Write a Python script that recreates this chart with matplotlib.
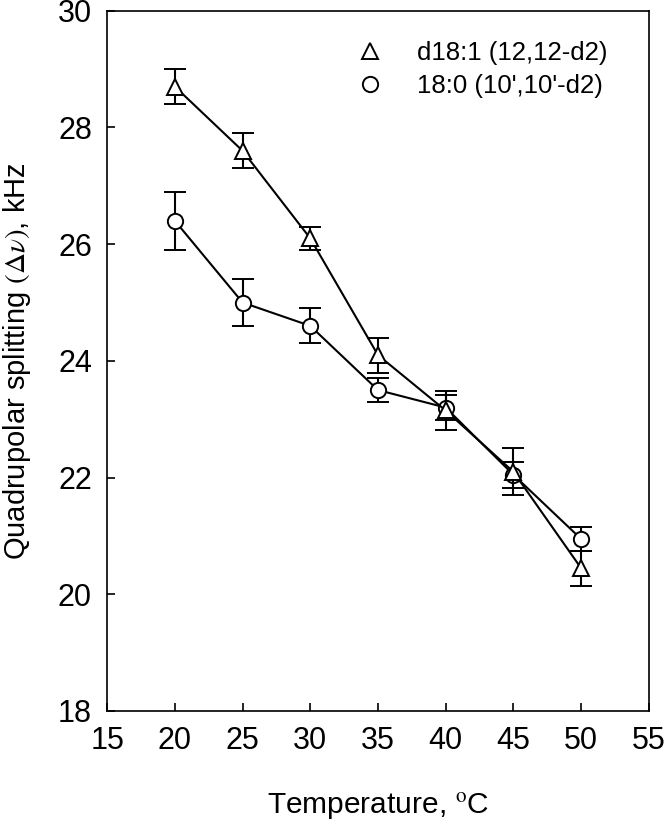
import matplotlib
matplotlib.use("Agg")
import matplotlib.pyplot as plt
from matplotlib.lines import Line2D

plt.rcParams['font.family'] = ['Liberation Sans', 'DejaVu Sans']
plt.rcParams['mathtext.fontset'] = 'stix'

temps = [20, 25, 30, 35, 40, 45, 50]
tri_vals = [28.7, 27.6, 26.1, 24.1, 23.15, 22.1, 20.45]
tri_err = [0.3, 0.3, 0.2, 0.3, 0.33, 0.4, 0.3]
circ_vals = [26.4, 25.0, 24.6, 23.5, 23.2, 22.05, 20.95]
circ_err = [0.5, 0.4, 0.3, 0.2, 0.22, 0.22, 0.2]
labels = ['d18:1 (12,12-d2)', "18:0 (10',10'-d2)"]

fig = plt.figure(figsize=(6.66, 8.30), dpi=100)
ax = fig.add_axes([0.161, 0.1434, 0.813, 0.8436])

common = dict(color='black', lw=1.5, ms=11, mfc='white', mec='black', mew=1.4,
              ecolor='black', elinewidth=1.5, capsize=8, capthick=1.5)
ax.errorbar(temps, circ_vals, yerr=circ_err, marker='o', zorder=3, **common)
ax.errorbar(temps, tri_vals, yerr=tri_err, marker='^', zorder=4, **common)

ax.set_xlim(15, 55)
ax.set_ylim(18, 30)
ax.set_xticks(range(15, 56, 5))
ax.set_yticks(range(18, 31, 2))
ax.tick_params(direction='in', length=6, width=1.2, labelsize=22, pad=11)
for s in ax.spines.values():
    s.set_linewidth(1.2)

ax.set_xlabel('Temperature, $^{\\mathrm{o}}$C', fontsize=21.5)
ax.xaxis.set_label_coords(0.5, -0.115)
ax.set_ylabel('Quadrupolar splitting $(\\Delta\\nu)$, kHz', fontsize=21)
ax.yaxis.set_label_coords(-0.138, 0.5)

handles = [Line2D([], [], ls='none', marker='^', ms=11, mfc='white', mec='black', mew=1.4),
           Line2D([], [], ls='none', marker='o', ms=11, mfc='white', mec='black', mew=1.4)]
ax.legend(handles, labels, loc='upper right', bbox_to_anchor=(0.967, 0.99), frameon=False,
          fontsize=18.5, handletextpad=1.33, labelspacing=0.35, handlelength=1.0)

fig.savefig('out.png', dpi=100)
